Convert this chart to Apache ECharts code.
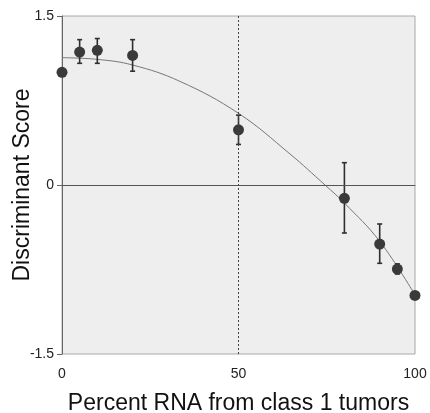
<!DOCTYPE html>
<html>
<head>
<meta charset="utf-8">
<script src="https://cdn.jsdelivr.net/npm/echarts@6/dist/echarts.min.js"></script>
<style>
  html, body { margin: 0; padding: 0; background: #fff; }
  #chart_box { width: 430px; height: 413px; }
</style>
</head>
<body>
<div id="chart_box"></div>
<script>
// measured points
var pctX = [0, 5, 10, 20, 50, 80, 90, 95, 100];
var scoreY = [1.00, 1.18, 1.195, 1.15, 0.49, -0.118, -0.524, -0.746, -0.98];
var errLow = [null, 1.08, 1.08, 1.01, 0.36, -0.426, -0.695, -0.79, null];
var errHigh = [null, 1.29, 1.30, 1.29, 0.62, 0.198, -0.346, -0.70, null];

// fitted curve
var curveX = [0, 10, 20, 33.4, 50, 64.6, 74.5, 80, 90, 100];
var curveY = [1.13, 1.115, 1.065, 0.92, 0.636, 0.275, 0, -0.16, -0.50, -0.976];

var yTicks = [-1.5, 0, 1.5];
var xTicks = [0, 50, 100];

(function() {
    var myChart = echarts.init(document.getElementById('chart_box'));

    var pts = [], bars = [], curve = [];
    for (var i = 0; i < pctX.length; i++) {
        pts.push([pctX[i], scoreY[i]]);
        if (errLow[i] !== null) bars.push([pctX[i], errLow[i], errHigh[i]]);
    }
    for (var j = 0; j < curveX.length; j++) {
        curve.push([curveX[j], curveY[j]]);
    }

    var labelFont = { color: '#222', fontSize: 14, fontFamily: 'Liberation Sans' };
    var nameFont = { color: '#111', fontSize: 23, fontFamily: 'Liberation Sans' };

    myChart.setOption({
        animation: false,
        grid: {
            left: 62, right: 15, top: 16, bottom: 59,
            outerBoundsMode: 'none',
            containLabel: false,
            show: true,
            backgroundColor: '#eeeeee',
            borderColor: '#a8a8a8',
            borderWidth: 1
        },
        xAxis: {
            type: 'value',
            min: xTicks[0], max: xTicks[2], interval: 50,
            name: 'Percent RNA from class 1 tumors',
            nameLocation: 'middle',
            nameGap: 38,
            nameMoveOverlap: false,
            nameTextStyle: nameFont,
            axisLine: { lineStyle: { color: '#777', width: 1 } },
            axisTick: { show: false },
            axisLabel: Object.assign({ margin: 13 }, labelFont),
            splitLine: { show: false }
        },
        yAxis: {
            type: 'value',
            min: yTicks[0], max: yTicks[2], interval: 1.5,
            name: 'Discriminant Score',
            nameLocation: 'middle',
            nameGap: 28,
            nameMoveOverlap: false,
            nameTextStyle: nameFont,
            axisLine: { show: true, lineStyle: { color: '#666', width: 1 } },
            axisTick: { show: true, length: 5, lineStyle: { color: '#666' } },
            axisLabel: Object.assign({ margin: 8 }, labelFont),
            splitLine: { show: false }
        },
        series: [{
            type: 'line',
            data: curve,
            smooth: 0.4,
            symbol: 'none',
            lineStyle: { color: '#777', width: 1 },
            z: 2,
            markLine: {
                silent: true,
                symbol: 'none',
                label: { show: false },
                data: [
                    { yAxis: 0, lineStyle: { color: '#555', width: 1, type: 'solid' } },
                    { xAxis: 50, lineStyle: { color: '#444', width: 1, type: [2, 2] } }
                ]
            }
        }, {
            type: 'custom',
            data: bars,
            z: 3,
            renderItem: function(params, api) {
                var top = api.coord([api.value(0), api.value(2)]);
                var bot = api.coord([api.value(0), api.value(1)]);
                var cw = 2.5;
                var st = { stroke: '#2e2e2e', lineWidth: 1.6 };
                return {
                    type: 'group',
                    children: [
                        { type: 'line', shape: { x1: top[0], y1: top[1], x2: bot[0], y2: bot[1] }, style: st },
                        { type: 'line', shape: { x1: top[0] - cw, y1: top[1], x2: top[0] + cw, y2: top[1] }, style: st },
                        { type: 'line', shape: { x1: bot[0] - cw, y1: bot[1], x2: bot[0] + cw, y2: bot[1] }, style: st }
                    ]
                };
            }
        }, {
            type: 'scatter',
            data: pts,
            symbolSize: 11,
            itemStyle: { color: '#3a3a3a', opacity: 1 },
            z: 4
        }]
    });
})();
</script>
</body>
</html>
